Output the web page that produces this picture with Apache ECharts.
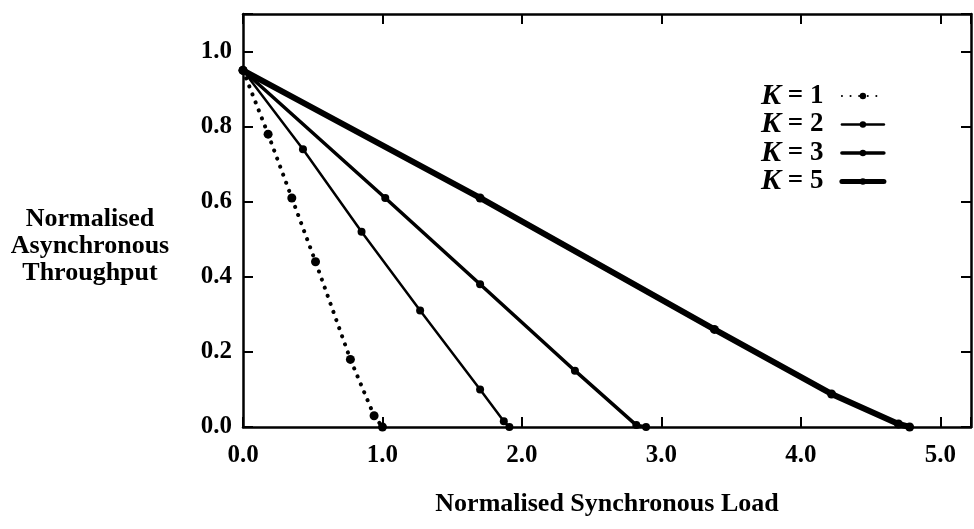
<!DOCTYPE html>
<html>
<head>
<meta charset="utf-8">
<script src="https://cdn.jsdelivr.net/npm/echarts@6/dist/echarts.min.js"></script>
<style>
  html, body { margin: 0; padding: 0; background: #fff; }
  #main { width: 974px; height: 529px; }
</style>
</head>
<body>
<div id="main"></div>
<script>
// values
var k1X = [0, 0.18, 0.35, 0.52, 0.77, 0.94, 1.0];
var k1Y = [0.95, 0.78, 0.61, 0.44, 0.18, 0.03, 0];
var k2X = [0, 0.43, 0.85, 1.27, 1.70, 1.87, 1.91];
var k2Y = [0.95, 0.74, 0.52, 0.31, 0.10, 0.015, 0];
var k3X = [0, 1.02, 1.70, 2.38, 2.82, 2.89];
var k3Y = [0.95, 0.61, 0.38, 0.15, 0.005, 0];
var k5X = [0, 1.70, 3.38, 4.22, 4.70, 4.78];
var k5Y = [0.95, 0.61, 0.26, 0.088, 0.008, 0];

var FONT = 'Liberation Serif';

function pairs(xs, ys) {
  return xs.map(function (x, i) { return [x, ys[i]]; });
}

function mkSeries(name, xs, ys, width, dash, size) {
  return {
    name: name,
    type: 'line',
    data: pairs(xs, ys),
    symbol: 'circle',
    symbolSize: size,
    color: '#000',
    itemStyle: { color: '#000' },
    lineStyle: { color: '#000', width: width, type: dash, cap: 'round' },
    animation: false,
    z: 3
  };
}

var chart = echarts.init(document.getElementById('main'));

function tick() { return { inside: true, length: 10, lineStyle: { color: '#000', width: 2 } }; }
function line() { return { show: true, onZero: false, lineStyle: { color: '#000', width: 2.5 } }; }

var option = {
  backgroundColor: '#fff',
  animation: false,
  grid: { left: 243, top: 14, right: 3, bottom: 102, show: false },
  legend: {
    orient: 'vertical',
    left: 756,
    top: 76,
    align: 'right',
    itemWidth: 42,
    itemHeight: 8,
    itemGap: -1.5,
    data: [
      { name: 'K1' },
      { name: 'K2', lineStyle: { width: 2.5 } },
      { name: 'K3', lineStyle: { width: 3.5 } },
      { name: 'K5', lineStyle: { width: 5 } }
    ],
    formatter: function (n) { return '{k|K} {t|= ' + n.slice(1) + '}  '; },
    textStyle: {
      color: '#000', fontFamily: FONT, fontWeight: 'bold', fontSize: 27, lineHeight: 24,
      rich: {
        k: { fontFamily: FONT, fontStyle: 'italic', fontWeight: 'bold', fontSize: 30, lineHeight: 24 },
        t: { fontFamily: FONT, fontWeight: 'bold', fontSize: 27, lineHeight: 24 }
      }
    }
  },
  xAxis: [{
    type: 'value', min: 0, max: 5.22, interval: 1,
    axisLine: line(), axisTick: tick(), splitLine: { show: false },
    axisLabel: {
      margin: 16, color: '#000', fontFamily: FONT, fontWeight: 'bold', fontSize: 25,
      formatter: function (v) { return Math.abs(v - Math.round(v)) < 1e-6 ? v.toFixed(1) : ''; }
    },
    name: 'Normalised Synchronous Load',
    nameLocation: 'middle',
    nameGap: 64,
    nameTextStyle: { color: '#000', fontFamily: FONT, fontWeight: 'bold', fontSize: 26 }
  }, {
    type: 'value', position: 'top', min: 0, max: 5.22, interval: 1,
    axisLine: line(), axisTick: tick(), splitLine: { show: false },
    axisLabel: { show: false }
  }],
  yAxis: [{
    type: 'value', min: 0, max: 1.1, interval: 0.2,
    axisLine: line(), axisTick: tick(), splitLine: { show: false },
    axisLabel: {
      margin: 11, color: '#000', fontFamily: FONT, fontWeight: 'bold', fontSize: 25,
      formatter: function (v) { return Math.abs(v * 5 - Math.round(v * 5)) < 1e-6 ? v.toFixed(1) : ''; }
    }
  }, {
    type: 'value', position: 'right', min: 0, max: 1.1, interval: 0.2,
    axisLine: line(), axisTick: tick(), splitLine: { show: false },
    axisLabel: { show: false }
  }],
  graphic: [{
    type: 'text',
    x: 90, y: 246,
    style: {
      text: 'Normalised\nAsynchronous\nThroughput',
      fill: '#000',
      font: 'bold 26px "Liberation Serif"',
      lineHeight: 27,
      align: 'center',
      verticalAlign: 'middle'
    }
  }],
  series: [
    mkSeries('K1', k1X, k1Y, 4, [0.1, 8.5], 9),
    mkSeries('K2', k2X, k2Y, 2.5, 'solid', 8),
    mkSeries('K3', k3X, k3Y, 3.5, 'solid', 8),
    mkSeries('K5', k5X, k5Y, 6, 'solid', 9)
  ]
};

chart.setOption(option);
</script>
</body>
</html>
